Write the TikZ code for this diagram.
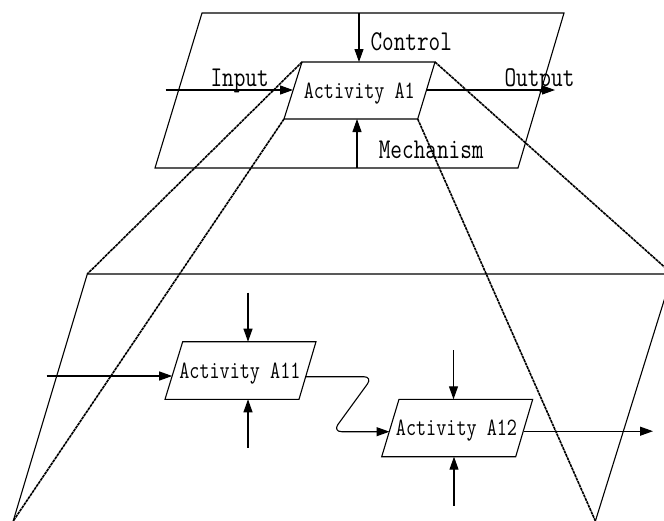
\documentclass[tikz,border=0pt]{standalone}
\usepackage{graphicx}
\usetikzlibrary{arrows.meta}
% tall, narrow monospaced lettering
\newcommand\tallmono[1]{\scalebox{1}[1.27]{#1}}
\begin{document}
\begin{tikzpicture}[x=1pt,y=-1pt,
  line width=1.1pt,
  flow/.style={-{Triangle[length=13pt,width=9pt]}},
  zoomline/.style={line width=1.6pt, dash pattern=on 3pt off 0.7pt},
  lbl/.style={font=\fontsize{22.6}{24}\selectfont\ttfamily, inner sep=0pt, anchor=base west},
  act/.style={font=\fontsize{19.6}{22}\selectfont\ttfamily, inner sep=0pt, anchor=base},
]
\path[use as bounding box, clip] (0,0) rectangle (664,520);

% ---- upper level: context of activity A1
\coordinate (ftl) at (202,13);  \coordinate (ftr) at (564,13);
\coordinate (fbr) at (518,168); \coordinate (fbl) at (155,168);
\draw (ftl) -- (ftr) -- (fbr) -- (fbl) -- cycle;

\coordinate (a1tl) at (302,62);    \coordinate (a1tr) at (435,62);
\coordinate (a1br) at (417.7,119); \coordinate (a1bl) at (284,119);
\draw (a1tl) -- (a1tr) -- (a1br) -- (a1bl) -- cycle;
\node[act] (a1) at (359.3,98.3) {\tallmono{Activity A1}};

\coordinate (ctrlsrc) at (359,13);
\coordinate (mechsrc) at (357,168);
\coordinate (insrc)   at (165.7,90);
\coordinate (inend)   at (293,90);
\coordinate (outbeg)  at (426.4,90);
\coordinate (outend)  at (555,90);
\draw[flow] (ctrlsrc) -- (ctrlsrc |- a1tl);
\draw[flow] (mechsrc) -- (mechsrc |- a1bl);
\draw[flow] (insrc) -- (inend);
\draw[flow] (outbeg) -- (outend);

\node[lbl] (ctrl) at (370,50)    {\tallmono{Control}};
\node[lbl] (inp)  at (210,86)    {\tallmono{Input}};
\node[lbl] (outp) at (504,86)    {\tallmono{Output}};
\node[lbl] (mech) at (378.3,158) {\tallmono{Mechanism}};

% ---- lower level: decomposition of A1 (its lower edge runs below the page)
\coordinate (ltl) at (87.3,274);  \coordinate (ltr) at (672.3,274);
\coordinate (lbr) at (595.4,521); \coordinate (lbl) at (13.2,521);
\draw (lbl) -- (ltl) -- (ltr) -- (lbr);

% activity A11
\coordinate (b1tl) at (182.7,341.7); \coordinate (b1tr) at (316,341.7);
\coordinate (b1br) at (299,399.3);   \coordinate (b1bl) at (165,399.3);
\draw (b1tl) -- (b1tr) -- (b1br) -- (b1bl) -- cycle;
\node[act] (a11) at (239.9,378.3) {\tallmono{Activity A11}};

% activity A12
\coordinate (b2tl) at (399,399.3);   \coordinate (b2tr) at (532.7,399.3);
\coordinate (b2br) at (515.7,456.7); \coordinate (b2bl) at (381.7,456.7);
\draw (b2tl) -- (b2tr) -- (b2br) -- (b2bl) -- cycle;
\node[act] (a12) at (456.5,435.7) {\tallmono{Activity A12}};

% arrows of A11
\coordinate (b1top) at (248,292.7);
\coordinate (b1bot) at (248,447.7);
\coordinate (b1in)  at (46.7,376);
\coordinate (b1inend) at (172.2,376);
\coordinate (b1out) at (306.2,376.7);
\draw[flow] (b1top) -- (b1top |- b1tl);
\draw[flow] (b1bot) -- (b1bot |- b1bl);
\draw[flow] (b1in) -- (b1inend);

% link A11 -> A12
\coordinate (k1) at (372.7,376.7);
\coordinate (k2) at (332.7,431.7);
\coordinate (b2in) at (389.5,431.7);
\draw[flow, rounded corners=9pt] (b1out) -- (k1) -- (k2) -- (b2in);

% arrows of A12
\coordinate (b2top) at (453.5,350);
\coordinate (b2bot) at (454,505.7);
\coordinate (b2out) at (523.5,431.2);
\coordinate (b2outend) at (653,431.2);
\draw[flow] (b2top) -- (b2top |- b2tl);
\draw[flow] (b2bot) -- (b2bot |- b2bl);
\draw[flow] (b2out) -- (b2outend);

% ---- zoom lines from A1 to its decomposition
\draw[zoomline] (a1tl) -- (ltl);
\draw[zoomline] (a1bl) -- (lbl);
\draw[zoomline] (a1tr) -- (ltr);
\draw[zoomline] (a1br) -- (lbr);
\end{tikzpicture}
\end{document}
